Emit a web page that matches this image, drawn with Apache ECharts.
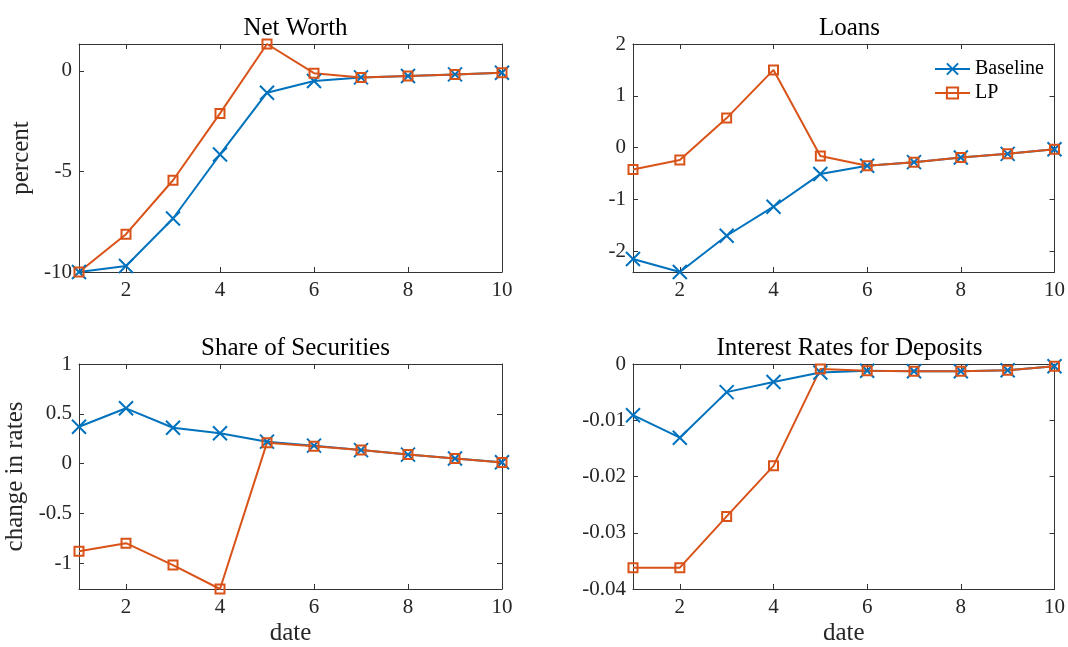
<!DOCTYPE html>
<html>
<head>
<meta charset="utf-8">
<script src="https://cdn.jsdelivr.net/npm/echarts@6/dist/echarts.min.js"></script>
<style>
  html, body { margin: 0; padding: 0; background: #fff; }
  #chart { width: 1068px; height: 647px; }
</style>
</head>
<body>
<div id="chart"></div>
<script>
// Periods after the shock
const dates = [1, 2, 3, 4, 5, 6, 7, 8, 9, 10];

// Net worth (percent)
const netWorthBaseline = [-10, -9.70, -7.34, -4.16, -1.09, -0.51, -0.33, -0.26, -0.18, -0.10];
const netWorthLP       = [-10, -8.12, -5.44, -2.12, 1.33, -0.12, -0.33, -0.26, -0.18, -0.10];

// Loans (percent)
const loansBaseline = [-2.15, -2.40, -1.70, -1.14, -0.51, -0.35, -0.28, -0.19, -0.12, -0.03];
const loansLP       = [-0.42, -0.24, 0.57, 1.50, -0.16, -0.35, -0.28, -0.19, -0.12, -0.03];

// Share of securities (change in rates)
const securitiesBaseline = [0.37, 0.555, 0.36, 0.305, 0.22, 0.18, 0.135, 0.09, 0.05, 0.013];
const securitiesLP       = [-0.88, -0.80, -1.02, -1.26, 0.21, 0.175, 0.135, 0.09, 0.05, 0.01];

// Interest rates for deposits (change in rates)
const depositRateBaseline = [-0.0091, -0.0131, -0.0050, -0.0032, -0.0015, -0.0012, -0.0013, -0.0013, -0.0011, -0.0004];
const depositRateLP       = [-0.0362, -0.0362, -0.0271, -0.0181, -0.0009, -0.0012, -0.0013, -0.0013, -0.0011, -0.0004];

// Tick labels
const xTicks = [2, 4, 6, 8, 10];
const netWorthTicks = [-10, -5, 0];
const loansTicks = [-2, -1, 0, 1, 2];
const securitiesTicks = [-1, -0.5, 0, 0.5, 1];
const depositRateTicks = [-0.04, -0.03, -0.02, -0.01, 0];

const panelTitles = ['Net Worth', 'Loans', 'Share of Securities', 'Interest Rates for Deposits'];
const seriesNames = ['Baseline', 'LP'];

const BLUE = '#0072BD';
const ORANGE = '#D95319';
const AXIS = '#333333';
const TEXT = '#262626';
const FONT = '"Liberation Serif", "DejaVu Serif", serif';

const grids = [
  { left: 79,  top: 44,  width: 423, height: 228 },
  { left: 633, top: 44,  width: 423, height: 228 },
  { left: 79,  top: 364, width: 423, height: 228 },
  { left: 633, top: 364, width: 423, height: 228 }
];

const panels = [
  { base: netWorthBaseline, lp: netWorthLP, ticks: netWorthTicks,
    yMin: Math.min(...netWorthBaseline, ...netWorthLP), yMax: Math.max(...netWorthBaseline, ...netWorthLP),
    yName: 'percent', yGap: 45, xName: '' },
  { base: loansBaseline, lp: loansLP, ticks: loansTicks,
    yMin: Math.min(...loansBaseline, ...loansLP), yMax: 2,
    yName: '', yGap: 0, xName: '' },
  { base: securitiesBaseline, lp: securitiesLP, ticks: securitiesTicks,
    yMin: Math.min(...securitiesBaseline, ...securitiesLP), yMax: 1,
    yName: 'change in rates', yGap: 51, xName: 'date' },
  { base: depositRateBaseline, lp: depositRateLP, ticks: depositRateTicks,
    yMin: -0.04, yMax: 0,
    yName: '', yGap: 0, xName: 'date' }
];

const axisLine = { show: true, onZero: false, lineStyle: { color: AXIS, width: 1 } };
const tickStyle = (vals) => ({ show: true, inside: true, length: 5, customValues: vals, lineStyle: { color: AXIS, width: 1 } });

const xAxes = [];
const yAxes = [];
const series = [];
const titles = [];

panels.forEach((p, i) => {
  const g = grids[i];
  titles.push({
    text: panelTitles[i],
    left: g.left + g.width / 2,
    top: g.top - 33,
    textAlign: 'center',
    textStyle: { fontFamily: FONT, fontSize: 25, fontWeight: 'normal', color: '#000' }
  });

  // bottom axis with labels, top axis mirrors the ticks
  xAxes.push({
    type: 'value', gridIndex: i, min: 1, max: 10, position: 'bottom',
    axisLine, axisTick: tickStyle(xTicks), splitLine: { show: false },
    axisLabel: { customValues: xTicks, margin: 8, fontFamily: FONT, fontSize: 21, color: TEXT },
    name: p.xName, nameLocation: 'middle', nameGap: 32,
    nameTextStyle: { fontFamily: FONT, fontSize: 25, color: TEXT }
  });
  xAxes.push({
    type: 'value', gridIndex: i, min: 1, max: 10, position: 'top',
    axisLine, axisTick: tickStyle(xTicks), splitLine: { show: false },
    axisLabel: { show: false }
  });

  yAxes.push({
    type: 'value', gridIndex: i, min: p.yMin, max: p.yMax, position: 'left',
    axisLine, axisTick: tickStyle(p.ticks), splitLine: { show: false },
    axisLabel: { customValues: p.ticks, margin: 7, fontFamily: FONT, fontSize: 21, color: TEXT },
    name: p.yName, nameLocation: 'middle', nameGap: p.yGap,
    nameTextStyle: { fontFamily: FONT, fontSize: 25, color: TEXT }
  });
  yAxes.push({
    type: 'value', gridIndex: i, min: p.yMin, max: p.yMax, position: 'right',
    axisLine, axisTick: tickStyle(p.ticks), splitLine: { show: false },
    axisLabel: { show: false }
  });

  const xIdx = i * 2;
  const yIdx = i * 2;
  series.push({
    name: seriesNames[0], type: 'line', xAxisIndex: xIdx, yAxisIndex: yIdx,
    data: dates.map((d, k) => [d, p.base[k]]),
    symbol: 'path://M0 0L10 10M10 0L0 10', symbolSize: 14, symbolKeepAspect: true,
    showAllSymbol: true, clip: false, animation: false,
    lineStyle: { color: BLUE, width: 2 },
    itemStyle: { color: 'rgba(0,0,0,0)', borderColor: BLUE, borderWidth: 2 },
    emphasis: { disabled: true }
  });
  series.push({
    name: seriesNames[1], type: 'line', xAxisIndex: xIdx, yAxisIndex: yIdx,
    data: dates.map((d, k) => [d, p.lp[k]]),
    symbol: 'rect', symbolSize: 9,
    showAllSymbol: true, clip: false, animation: false,
    lineStyle: { color: ORANGE, width: 2 },
    itemStyle: { color: 'rgba(0,0,0,0)', borderColor: ORANGE, borderWidth: 2 },
    emphasis: { disabled: true }
  });
});

const chart = echarts.init(document.getElementById('chart'), null, { renderer: 'canvas' });
chart.setOption({
  backgroundColor: '#ffffff',
  animation: false,
  title: titles,
  grid: grids,
  xAxis: xAxes,
  yAxis: yAxes,
  legend: {
    data: seriesNames,
    orient: 'vertical',
    left: 934, top: 59, padding: 0,
    itemWidth: 35, itemHeight: 14, itemGap: 4,
    textStyle: { fontFamily: FONT, fontSize: 20, color: '#000' },
    selectedMode: false
  },
  series
});
</script>
</body>
</html>
